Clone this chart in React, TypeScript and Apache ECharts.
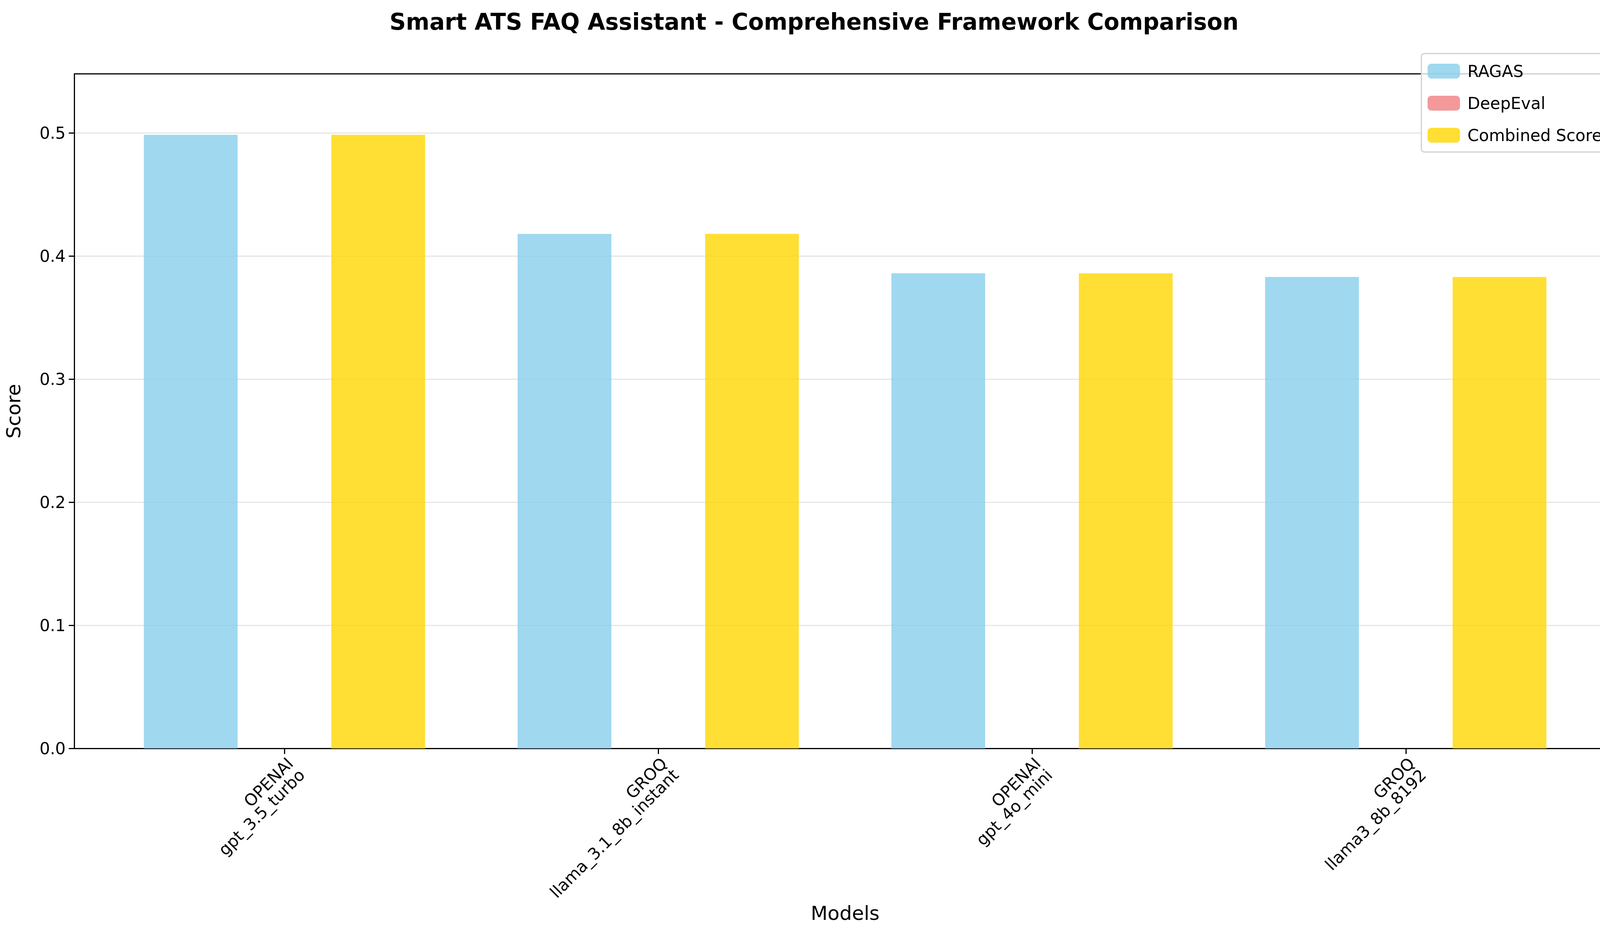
import React, { useEffect, useRef } from "react";
import * as echarts from "echarts";

const categories = ["OPENAI\ngpt_3.5_turbo", "GROQ\nllama_3.1_8b_instant", "OPENAI\ngpt_4o_mini", "GROQ\nllama3_8b_8192"];
const ragas = [0.4985, 0.418, 0.386, 0.383];
const deepeval = [0, 0, 0, 0];
const combined = [0.4985, 0.418, 0.386, 0.383];
const yTicks = [0, 0.1, 0.2, 0.3, 0.4, 0.5];

export default function App() {
  const ref = useRef<HTMLDivElement>(null);
  useEffect(() => {
    document.body.style.margin = "0";
    document.body.style.overflow = "hidden";
    const chart = echarts.init(ref.current!, null, { renderer: "svg" });
    const font = "DejaVu Sans";
    const mk = (name: string, vals: number[], color: string) => ({
      name,
      type: "bar",
      barWidth: 240,
      barGap: "0%",
      data: vals.map((v, i) => [i, v]),
      itemStyle: { color },
    });
    chart.setOption({
      animation: false,
      textStyle: { fontFamily: font },
      title: {
        text: "Smart ATS FAQ Assistant - Comprehensive Framework Comparison",
        left: "center",
        top: 22,
        textStyle: { fontFamily: font, fontSize: 58, fontWeight: "bold", color: "#000" },
      },
      legend: {
        orient: "vertical",
        right: 51,
        top: 137,
        itemWidth: 83,
        itemHeight: 38,
        itemGap: 40,
        padding: [24, 16, 22, 16],
        borderColor: "#d0d0d0",
        borderWidth: 3,
        borderRadius: 8,
        backgroundColor: "rgba(255,255,255,0.8)",
        textStyle: { fontFamily: font, fontSize: 42, color: "#000", padding: [0, 0, 0, 14] },
        itemStyle: { borderWidth: 0 },
        data: ["RAGAS", "DeepEval", "Combined Score"],
      },
      grid: { left: 190, right: 31, top: 189, bottom: 425, containLabel: false },
      xAxis: {
        type: "value",
        min: -0.5625,
        max: 3.5625,
        interval: 1,
        name: "Models",
        nameLocation: "middle",
        nameGap: 345,
        nameTextStyle: { fontFamily: font, fontSize: 50, color: "#000" },
        splitLine: { show: false },
        axisLine: { show: true, onZero: false, lineStyle: { color: "#000", width: 3 } },
        axisTick: { show: true, length: 14, lineStyle: { color: "#000", width: 3 }, customValues: [0, 1, 2, 3] },
        axisLabel: {
          customValues: [0, 1, 2, 3],
          rotate: 45,
          margin: 16,
          fontSize: 42,
          color: "#000",
          fontFamily: font,
          align: "right",
          verticalAlign: "top",
          formatter: (v: number) => categories[Math.round(v)] ?? "",
        },
      },
      yAxis: {
        type: "value",
        min: 0,
        max: 0.548,
        interval: 0.1,
        name: "Score",
        nameLocation: "middle",
        nameGap: 130,
        nameTextStyle: { fontFamily: font, fontSize: 50, color: "#000" },
        axisLine: { show: true, onZero: false, lineStyle: { color: "#000", width: 3 } },
        axisTick: { show: true, length: 14, lineStyle: { color: "#000", width: 3 }, customValues: yTicks },
        axisLabel: { customValues: yTicks, fontSize: 42, color: "#000", margin: 22, fontFamily: font, formatter: (v: number) => v.toFixed(1) },
        splitLine: { show: true, lineStyle: { color: "#e6e6e6", width: 3 } },
      },
      graphic: [
        { type: "line", shape: { x1: 190, y1: 189, x2: 4137, y2: 189 }, style: { stroke: "#000", lineWidth: 3 } },
        { type: "line", shape: { x1: 4137, y1: 189, x2: 4137, y2: 1942 }, style: { stroke: "#000", lineWidth: 3 } },
      ],
      series: [
        mk("RAGAS", ragas, "rgba(135,206,235,0.8)"),
        mk("DeepEval", deepeval, "rgba(240,128,128,0.8)"),
        mk("Combined Score", combined, "rgba(255,215,0,0.8)"),
      ],
    });
    return () => chart.dispose();
  }, []);
  return <div ref={ref} style={{ position: "fixed", left: 0, top: 0, width: 4168, height: 2367 }} />;
}
